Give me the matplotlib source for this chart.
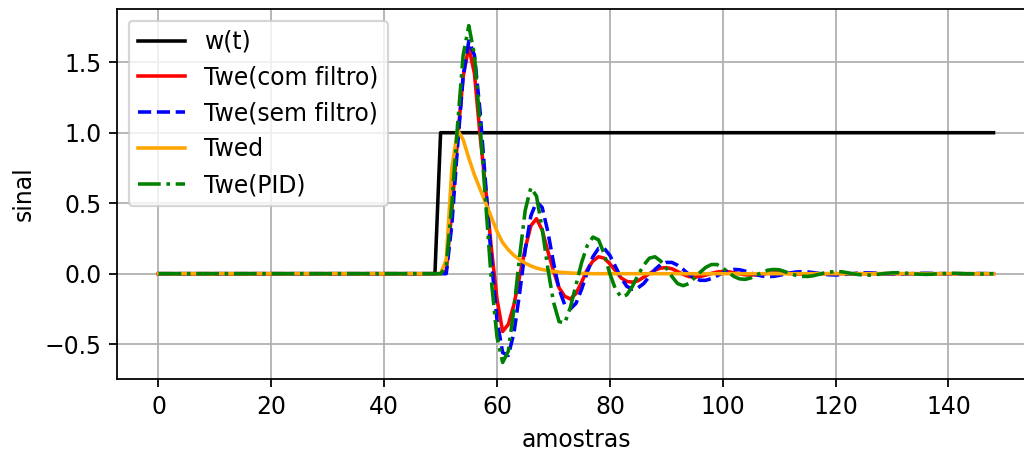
import numpy as np
import matplotlib
matplotlib.use('Agg')
import matplotlib.pyplot as plt

plt.rcParams['font.size'] = 10.6
plt.rcParams['lines.linewidth'] = 1.6

# amostras 0..148
amostras = np.arange(149)

# referencia (degrau em 50)
w_t = [0.0] * 50 + [1.0] * 99

# resposta com filtro
twe_com = [0.0] * 51 + [
    0.02, 0.45, 0.95, 1.40, 1.61, 1.42, 0.98, 0.60, 0.18, -0.18,
    -0.41, -0.36, -0.22, -0.02, 0.18, 0.34, 0.39, 0.31, 0.16, 0.02,
    -0.10, -0.16, -0.18, -0.14, -0.06, 0.03, 0.09, 0.12, 0.11, 0.07,
    0.02, -0.03, -0.055, -0.06, -0.05, -0.025, 0.0, 0.025, 0.04, 0.043,
    0.035, 0.015, -0.005, -0.02, -0.025, -0.02, -0.01, 0.002, 0.012, 0.016,
    0.014, 0.007, -0.001, -0.008, -0.01, -0.008, -0.003, 0.002, 0.005, 0.006,
    0.004, 0.001, -0.002, -0.003, -0.003, -0.002] + [0.0] * 32

# resposta sem filtro
twe_sem = [0.0] * 51 + [
    0.0, 0.35, 0.9, 1.4, 1.65, 1.55, 1.15, 0.62, 0.1, -0.33,
    -0.56, -0.58, -0.42, -0.14, 0.17, 0.41, 0.51, 0.47, 0.30, 0.08,
    -0.11, -0.22, -0.25, -0.21, -0.11, 0.01, 0.12, 0.18, 0.18, 0.13,
    0.05, -0.03, -0.09, -0.11, -0.10, -0.07, -0.02, 0.03, 0.065, 0.08,
    0.08, 0.06, 0.03, -0.005, -0.03, -0.047, -0.047, -0.035, -0.015, 0.005,
    0.022, 0.03, 0.028, 0.018, 0.005, -0.008, -0.017, -0.02, -0.019, -0.012,
    -0.003, 0.006, 0.012, 0.014, 0.013, 0.008, 0.002, -0.004, -0.008, -0.009,
    -0.008, -0.004, 0.0, 0.004, 0.006, 0.006, 0.004, 0.001, -0.002, -0.004,
    -0.004, -0.003, -0.001, 0.001, 0.002, 0.003, 0.002, 0.001, 0.0, -0.001,
    -0.002, -0.001, -0.001, 0.0, 0.001, 0.001, 0.0, 0.0]

# resposta desejada
twed = [0.0] * 51 + [
    0.1, 0.75, 1.02, 0.95, 0.82, 0.70, 0.60, 0.50, 0.40, 0.30,
    0.22, 0.17, 0.13, 0.10, 0.075, 0.055, 0.04, 0.03, 0.022, 0.016,
    0.011, 0.008, 0.005, 0.003, 0.002, 0.001, 0.0] + [0.0] * 71

# resposta com PID
twe_pid = [0.0] * 51 + [
    0.05, 0.5, 1.05, 1.55, 1.76, 1.55, 1.05, 0.5, -0.05, -0.45,
    -0.63, -0.55, -0.25, 0.12, 0.45, 0.61, 0.55, 0.32, 0.04, -0.2,
    -0.34, -0.35, -0.24, -0.08, 0.08, 0.2, 0.26, 0.24, 0.14, 0.0,
    -0.11, -0.165, -0.15, -0.09, -0.01, 0.06, 0.11, 0.12, 0.09, 0.04,
    -0.02, -0.07, -0.085, -0.07, -0.03, 0.01, 0.045, 0.065, 0.065, 0.04,
    0.01, -0.02, -0.037, -0.04, -0.03, -0.01, 0.01, 0.025, 0.03, 0.028,
    0.015, 0.0, -0.012, -0.019, -0.02, -0.015, -0.005, 0.005, 0.012, 0.015,
    0.014, 0.008, 0.0, -0.006, -0.01, -0.01, -0.007, -0.002, 0.003, 0.006,
    0.007, 0.005, 0.002, -0.002, -0.004, -0.005, -0.004, -0.001, 0.001, 0.003,
    0.003, 0.002, 0.0, -0.001, -0.002, -0.002, -0.001, 0.0]

fig = plt.figure(figsize=(6.4, 2.8125), dpi=160)
ax = fig.add_axes([0.114, 0.157, 0.897, 0.8236])

ax.plot(amostras, w_t, 'k', label='w(t)')
ax.plot(amostras, twe_com, 'r', label='Twe(com filtro)')
ax.plot(amostras, twe_sem, 'b--', label='Twe(sem filtro)')
ax.plot(amostras, twed, color='orange', label='Twed')
ax.plot(amostras, twe_pid, 'g-.', label='Twe(PID)')

ax.set_xlabel('amostras')
ax.set_ylabel('sinal')
ax.grid(True)
ax.spines['right'].set_visible(False)
ax.legend(loc='upper left')

fig.savefig('out.png', dpi=160)
